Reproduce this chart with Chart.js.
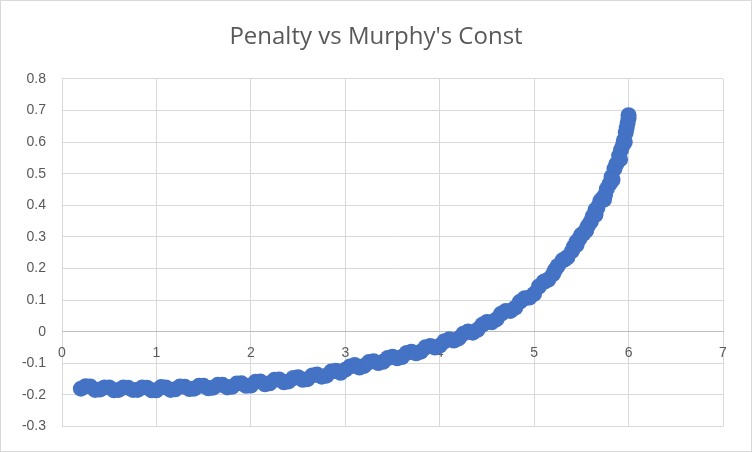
<!DOCTYPE html>
<html>
<head>
<meta charset="utf-8">
<script src="https://cdn.jsdelivr.net/npm/chart.js@4/dist/chart.umd.min.js"></script>
<style>
  html, body { margin: 0; padding: 0; background: #fff; }
  #wrap { width: 750px; height: 450px; border: 1px solid #d9d9d9; }
</style>
</head>
<body>
<div id="wrap"><canvas id="chart" width="750" height="450"></canvas></div>
<script>
// Murphy's const (x) and penalty (y)
const constA = [0.2, 0.3, 0.4, 0.5, 0.6, 0.7, 0.8, 0.9, 1.0, 1.1, 1.2, 1.3, 1.4, 1.5, 1.6, 1.7, 1.8, 1.9, 2.0,
  2.1, 2.2, 2.3, 2.4, 2.5, 2.6, 2.7, 2.8, 2.9, 3.0, 3.1, 3.2, 3.3, 3.4, 3.5, 3.6, 3.7, 3.8, 3.9, 4.0,
  4.1, 4.2, 4.3, 4.4, 4.5, 4.6, 4.7, 4.8, 4.9, 5.0, 5.1, 5.2, 5.3, 5.4, 5.5, 5.6, 5.7, 5.8, 5.9, 6.0];
const penaltyA = [-0.180, -0.173, -0.183, -0.176, -0.184, -0.177, -0.184, -0.177, -0.185, -0.176, -0.182, -0.174,
  -0.180, -0.171, -0.177, -0.168, -0.174, -0.163, -0.170, -0.157, -0.163, -0.151, -0.157, -0.144, -0.150,
  -0.135, -0.139, -0.123, -0.120, -0.105, -0.108, -0.093, -0.095, -0.079, -0.080, -0.063, -0.063, -0.045,
  -0.044, -0.024, -0.021, 0.001, 0.006, 0.031, 0.039, 0.066, 0.076, 0.106, 0.120, 0.158, 0.182, 0.226,
  0.255, 0.307, 0.348, 0.413, 0.468, 0.557, 0.675];

const constB = [0.25, 0.35, 0.45, 0.55, 0.65, 0.75, 0.85, 0.95, 1.05, 1.15, 1.25, 1.35, 1.45, 1.55, 1.65, 1.75,
  1.85, 1.95, 2.05, 2.15, 2.25, 2.35, 2.45, 2.55, 2.65, 2.75, 2.85, 2.95, 3.05, 3.15, 3.25, 3.35, 3.45,
  3.55, 3.65, 3.75, 3.85, 3.95, 4.05, 4.15, 4.25, 4.35, 4.45, 4.55, 4.65, 4.75, 4.85, 4.95, 5.05, 5.15,
  5.25, 5.35, 5.45, 5.55, 5.65, 5.75, 5.85, 5.95];
const penaltyB = [-0.172, -0.184, -0.176, -0.185, -0.176, -0.184, -0.176, -0.185, -0.175, -0.184, -0.173, -0.181,
  -0.171, -0.179, -0.168, -0.176, -0.164, -0.171, -0.158, -0.166, -0.152, -0.160, -0.146, -0.152, -0.138,
  -0.142, -0.126, -0.130, -0.110, -0.113, -0.096, -0.099, -0.083, -0.084, -0.067, -0.068, -0.049, -0.050,
  -0.030, -0.028, -0.006, -0.003, 0.022, 0.030, 0.057, 0.066, 0.095, 0.108, 0.143, 0.165, 0.208, 0.235,
  0.285, 0.322, 0.385, 0.432, 0.515, 0.605];

const constC = [5.12, 5.22, 5.32, 5.42, 5.48, 5.52, 5.57, 5.62, 5.67, 5.72, 5.77, 5.82, 5.87, 5.92, 5.94,
  5.97, 5.98, 5.99, 6.0];
const penaltyC = [0.160, 0.195, 0.228, 0.268, 0.295, 0.310, 0.335, 0.365, 0.392, 0.420, 0.452, 0.490, 0.530,
  0.575, 0.590, 0.630, 0.645, 0.660, 0.685];

// points on the right edge of the steep part of the cloud
const constD = [5.35, 5.45, 5.55, 5.65, 5.74, 5.83, 5.91, 5.96];
const penaltyD = [0.235, 0.275, 0.320, 0.370, 0.418, 0.480, 0.545, 0.600];

const xTicks = [0, 1, 2, 3, 4, 5, 6, 7];
const yTicks = [-0.3, -0.2, -0.1, 0, 0.1, 0.2, 0.3, 0.4, 0.5, 0.6, 0.7, 0.8];

function toPoints(xs, ys) {
  return xs.map((x, i) => ({ x: x, y: ys[i] }));
}

const points = toPoints(constA, penaltyA)
  .concat(toPoints(constB, penaltyB))
  .concat(toPoints(constC, penaltyC))
  .concat(toPoints(constD, penaltyD));

const grey = "#595959";
const font = { family: "'Liberation Sans', Arial, sans-serif", size: 14 };

new Chart(document.getElementById("chart"), {
  type: "scatter",
  data: {
    datasets: [{
      data: points,
      backgroundColor: "#4472C4",
      borderColor: "#4472C4",
      pointRadius: 8,
      pointHoverRadius: 8,
      borderWidth: 0
    }]
  },
  options: {
    responsive: false,
    animation: false,
    layout: { padding: { left: 0, right: 0, top: 0, bottom: 24 } },
    plugins: {
      legend: { display: false },
      tooltip: { enabled: false },
      title: {
        display: true,
        text: "Penalty vs Murphy's Const",
        color: grey,
        font: { family: "'Open Sans', sans-serif", size: 24, weight: "normal" },
        padding: { top: 22, bottom: 27 }
      }
    },
    scales: {
      x: {
        type: "linear",
        position: { y: 0 },
        min: xTicks[0],
        max: xTicks[xTicks.length - 1],
        afterBuildTicks: scale => { scale.ticks = xTicks.map(v => ({ value: v })); },
        ticks: { color: grey, font: font, padding: 13, maxRotation: 0 },
        grid: { color: "#d9d9d9", drawTicks: false },
        border: { color: "#bfbfbf", width: 1 }
      },
      y: {
        min: yTicks[0],
        max: yTicks[yTicks.length - 1],
        afterBuildTicks: scale => { scale.ticks = yTicks.map(v => ({ value: v })); },
        afterFit: scale => { scale.width = 61; },
        ticks: {
          color: grey,
          font: font,
          padding: 16,
          callback: v => String(parseFloat(Number(v).toFixed(1)))
        },
        grid: {
          color: ctx => (ctx.tick && ctx.tick.value === 0 ? "#bfbfbf" : "#d9d9d9"),
          drawTicks: false
        },
        border: { display: false }
      },
      // empty right-hand strip so the title stays centred on the whole canvas
      yRight: {
        type: "linear",
        position: "right",
        afterFit: scale => { scale.width = 28; },
        ticks: { display: false },
        grid: { display: false, drawTicks: false },
        border: { display: false }
      }
    }
  }
});
</script>
</body>
</html>
